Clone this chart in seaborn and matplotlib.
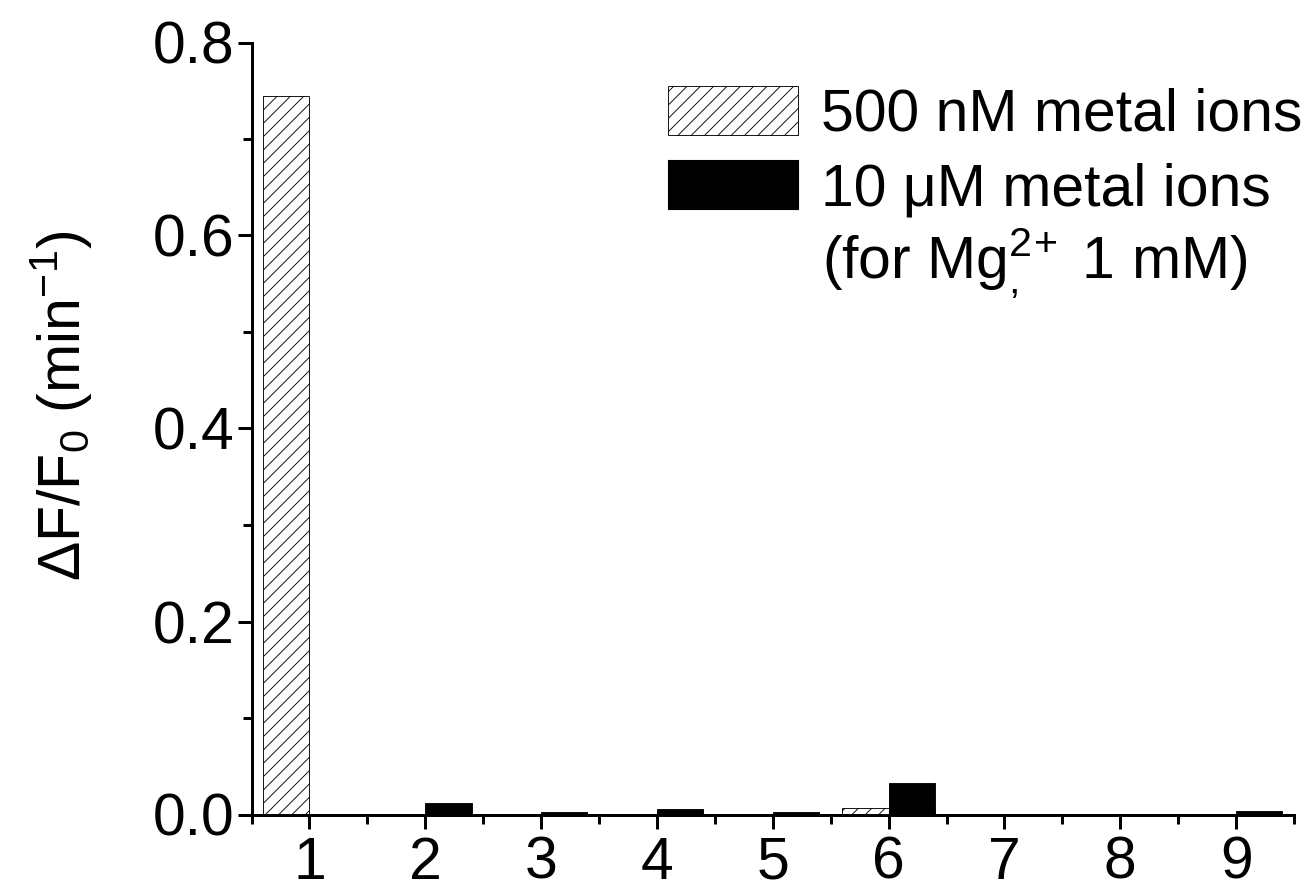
import numpy as np
import pandas as pd
import matplotlib
matplotlib.use("Agg")
import matplotlib.pyplot as plt
from matplotlib.patches import Patch
from matplotlib.ticker import MultipleLocator, FormatStrFormatter
import seaborn as sns

# values
ions = [1, 2, 3, 4, 5, 6, 7, 8, 9]
low_conc = [0.745, 0, 0, 0, 0, 0.007, 0, 0, 0]          # 500 nM
high_conc = [0, 0.012, 0.003, 0.0055, 0.003, 0.033, 0, 0, 0.004]  # 10 uM
labels = ["500 nM metal ions", "10 \u03bcM metal ions"]

df = pd.DataFrame({
    "ion": ions + ions,
    "value": low_conc + high_conc,
    "conc": [labels[0]] * len(ions) + [labels[1]] * len(ions),
})

sns.set_style("ticks", rc={"axes.edgecolor": "black", "text.color": "black",
                           "axes.labelcolor": "black", "xtick.color": "black",
                           "ytick.color": "black"})
plt.rcParams["font.family"] = ["Liberation Sans", "DejaVu Sans"]
plt.rcParams["mathtext.fontset"] = "custom"
plt.rcParams["mathtext.rm"] = "Liberation Sans"
plt.rcParams["mathtext.it"] = "Liberation Sans:italic"
plt.rcParams["mathtext.bf"] = "Liberation Sans:bold"
plt.rcParams["hatch.linewidth"] = 0.8

DPI = 80
fs = 53
fig = plt.figure(figsize=(1311 / DPI, 892 / DPI), dpi=DPI)
ax = fig.add_axes([251.5 / 1311, 1 - 814.5 / 892, (1294 - 251.5) / 1311, (814.5 - 42.5) / 892])

sns.barplot(data=df, x="ion", y="value", hue="conc", native_scale=True,
            width=0.8, dodge=True, palette=["white", "black"],
            edgecolor="black", linewidth=0.8, errorbar=None, legend=False, ax=ax)

for bar in ax.containers[0]:
    bar.set_facecolor("white")
    bar.set_hatch("//")
    bar.set_edgecolor("black")
for bar in ax.containers[1]:
    bar.set_facecolor("black")

ax.set_xlim(0.5, 9.5)
ax.set_ylim(0, 0.8)
ax.xaxis.set_major_locator(MultipleLocator(1))
ax.xaxis.set_minor_locator(MultipleLocator(0.5))
ax.yaxis.set_major_locator(MultipleLocator(0.2))
ax.yaxis.set_minor_locator(MultipleLocator(0.1))
ax.yaxis.set_major_formatter(FormatStrFormatter("%.1f"))
ax.set_xticks(ions)
ax.set_xticklabels([str(i) for i in ions])

sns.despine(ax=ax)
for s in ["left", "bottom"]:
    ax.spines[s].set_linewidth(2.7)
ax.tick_params(axis="both", which="major", length=13, width=2.7, labelsize=fs, direction="out")
ax.tick_params(axis="both", which="minor", length=8, width=2.7, direction="out")
ax.tick_params(axis="y", which="major", pad=2)
ax.tick_params(axis="x", which="major", pad=6)

ax.set_xlabel("")
ax.set_ylabel("\u0394F/F$_0$ (min$^{-1}$)", fontsize=fs)
ax.yaxis.set_label_coords(-0.15, 0.53)

handles = [Patch(facecolor="white", edgecolor="black", hatch="//", linewidth=0.8),
           Patch(facecolor="black", edgecolor="black")]
fig.legend(handles, labels, loc="upper left", bbox_to_anchor=(668 / 1311, 1 - 86 / 892),
           frameon=False, fontsize=fs, handlelength=2.2, handleheight=0.9,
           handletextpad=0.4, labelspacing=0.3, borderpad=0, borderaxespad=0)
fig.text(1035 / 1311, 1 - 262 / 892, "(for Mg$^{2\\!+}_{,}$ 1 mM)", fontsize=fs,
         ha="center", va="center")

fig.savefig("out.png", dpi=DPI)
